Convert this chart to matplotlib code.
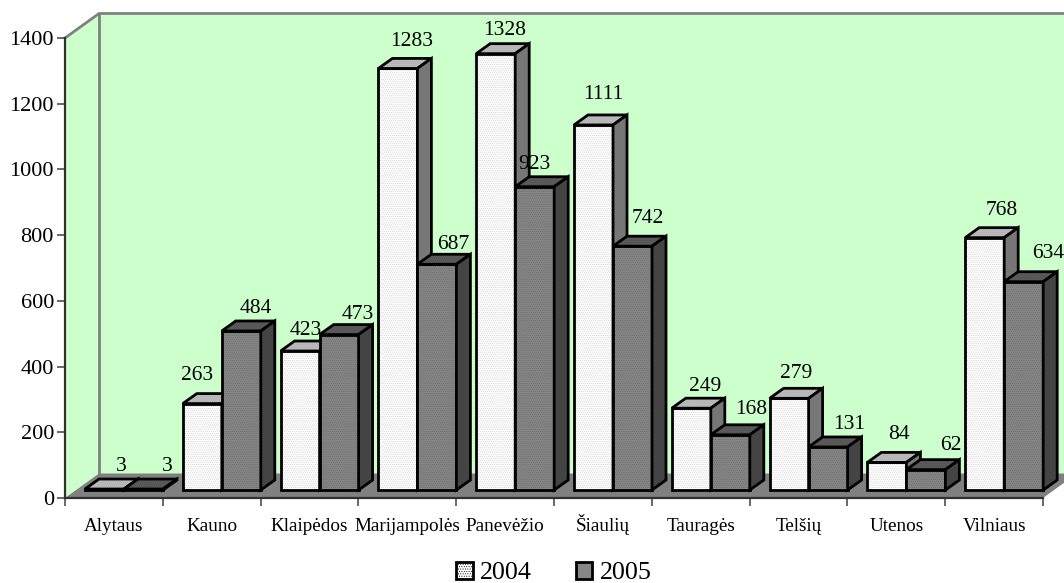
import matplotlib
matplotlib.use('Agg')
import matplotlib.pyplot as plt
from matplotlib.patches import Polygon, Patch

plt.rcParams['font.family'] = ['Liberation Serif', 'DejaVu Serif']
plt.rcParams['hatch.linewidth'] = 0.4

# -----------------------------
# Data
# -----------------------------
categories = ['Alytaus', 'Kauno', 'Klaipėdos', 'Marijampolės', 'Panevėžio',
              'Šiaulių', 'Tauragės', 'Telšių', 'Utenos', 'Vilniaus']
values_2004 = [3, 263, 423, 1283, 1328, 1111, 249, 279, 84, 768]
values_2005 = [3, 484, 473, 687, 923, 742, 168, 131, 62, 634]

# value label nudges in pixels
shift_2004 = [(3, 3), (-19, 9), (-8, 1), (0, 7), (-5, 4), (-4, 11), (0, 2), (-7, 5), (-2, 8), (3, 8)]
shift_2005 = [(10, 3), (1, 3), (5, 1), (2, 0), (-14, 3), (1, 8), (7, 6), (7, 3), (11, 5), (10, 9)]

# -----------------------------
# Layout (pixels of a 1064x583 picture)
# -----------------------------
W, H = 1064, 583
X0, X1 = 65, 1043
Y0, Y1 = 498, 38
PX_X = 10 / (X1 - X0)          # categories per pixel
PX_Y = 1400 / (Y0 - Y1)        # value units per pixel

wall_dx, wall_dy = 34 * PX_X, 24.5 * PX_Y
bar_w = 39 * PX_X
bar_dx, bar_dy = 14 * PX_X, 10 * PX_Y
bar_x0 = 20 * PX_X
bar_y0 = 8 * PX_Y

fig = plt.figure(figsize=(W / 100, H / 100), dpi=100, facecolor='white')
ax = fig.add_axes([X0 / W, 1 - Y0 / H, (X1 - X0) / W, (Y0 - Y1) / H])
ax.set_xlim(0, 10)
ax.set_ylim(0, 1400)
ax.patch.set_visible(False)


def add_poly(pts, color, hatch_color=None, z=1, edge=None, lw=0):
    ax.add_patch(Polygon(pts, closed=True, facecolor=color, edgecolor='none',
                         lw=0, clip_on=False, zorder=z))
    if hatch_color:
        ax.add_patch(Polygon(pts, closed=True, facecolor='none', edgecolor=hatch_color,
                             hatch='........', lw=0, clip_on=False, zorder=z))
    if edge:
        ax.add_patch(Polygon(pts, closed=True, facecolor='none', edgecolor=edge, lw=lw,
                             joinstyle='miter', clip_on=False, zorder=z))


# -----------------------------
# Walls and floor
# -----------------------------
gray = '#808080'
wall = '#CCFFCC'
far = 11
add_poly([(wall_dx, wall_dy), (far, wall_dy), (far, 1400 + wall_dy), (wall_dx, 1400 + wall_dy)], wall)
add_poly([(0, 0), (wall_dx, wall_dy), (wall_dx, 1400 + wall_dy), (0, 1400)], wall)
add_poly([(0, 0), (wall_dx, wall_dy), (10 + wall_dx, wall_dy), (10, 0)], gray)
ax.plot([0, wall_dx, far], [1400, 1400 + wall_dy, 1400 + wall_dy], color=gray, lw=2, clip_on=False, zorder=1.5)
ax.plot([wall_dx, wall_dx], [wall_dy, 1400 + wall_dy], color=gray, lw=2, clip_on=False, zorder=1.5)


# -----------------------------
# Bars
# -----------------------------
def draw_bar(x, v, front, dots, top, side, z):
    b = bar_y0
    t = b + v
    r = x + bar_w
    add_poly([(x, b), (r, b), (r, t), (x, t)], front, dots, z, 'black', 2)
    add_poly([(x, t), (r, t), (r + bar_dx, t + bar_dy), (x + bar_dx, t + bar_dy)], top, dots, z, 'black', 2)
    add_poly([(r, b), (r + bar_dx, b + bar_dy), (r + bar_dx, t + bar_dy), (r, t)], side, None, z, 'black', 2)


for i, cat in enumerate(categories):
    x = i + bar_x0
    draw_bar(x, values_2004[i], 'white', '#C8C8C8', '#B4B4B4', '#777777', 3 + i)
    draw_bar(x + bar_w, values_2005[i], '#868686', '#666666', '#555555', '#444444', 3.5 + i)

    for xx, v, s in ((x, values_2004[i], shift_2004[i]), (x + bar_w, values_2005[i], shift_2005[i])):
        ax.text(xx + bar_w / 2 + bar_dx + s[0] * PX_X, bar_y0 + v + bar_dy + s[1] * PX_Y, str(v),
                ha='center', va='bottom', fontsize=15.5, color='black', zorder=20, clip_on=False)

# -----------------------------
# Axes
# -----------------------------
for name in ('top', 'right'):
    ax.spines[name].set_visible(False)
for name in ('left', 'bottom'):
    ax.spines[name].set_color('#303030')
    ax.spines[name].set_linewidth(1.6)
    ax.spines[name].set_zorder(2.5)

ax.set_yticks(range(0, 1401, 200))
ax.tick_params(axis='y', length=6, width=1.1, color='#404040', labelsize=16, pad=2)
ax.set_xticks(range(0, 11))
ax.set_xticklabels([])
ax.tick_params(axis='x', which='major', length=6, width=1.1, color='#404040')
ax.set_xticks([i + 0.5 for i in range(10)], minor=True)
ax.set_xticklabels(categories, minor=True, fontsize=13.8, va='baseline')
ax.tick_params(axis='x', which='minor', length=0, pad=23.5)

# -----------------------------
# Legend
# -----------------------------
handles = [Patch(facecolor='white', edgecolor='black', lw=2, hatch='.......', label='2004'),
           Patch(facecolor='#868686', edgecolor='black', lw=2, label='2005')]
fig.legend(handles=handles, loc='center', bbox_to_anchor=(554 / W, 1 - 573 / H), ncol=2, frameon=False,
           fontsize=18.7, handlelength=0.62, handleheight=0.62, handletextpad=0.3, columnspacing=1.68,
           borderpad=0, borderaxespad=0)

fig.savefig('out.png', dpi=100)
